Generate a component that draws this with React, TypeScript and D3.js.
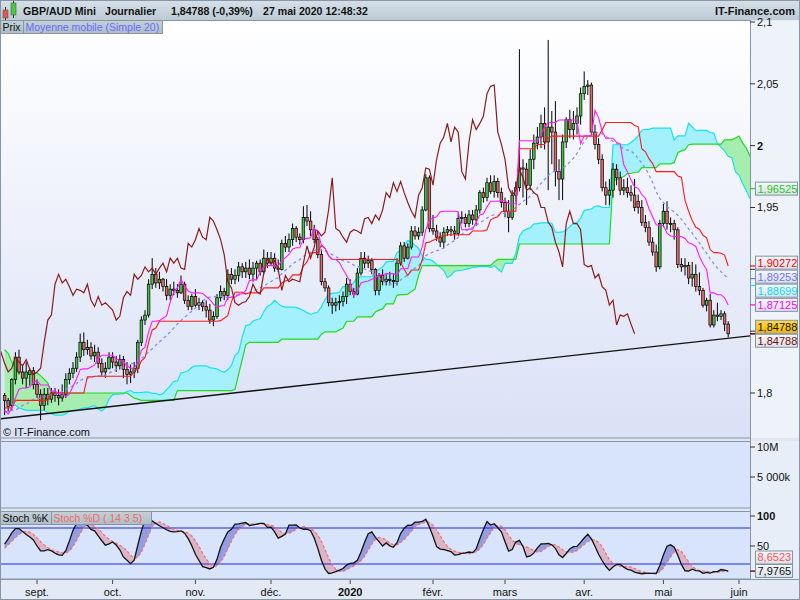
import * as d3 from 'd3';
import React, { useEffect, useRef } from 'react';

// daily candles, 20 Aug 2019 -> 27 May 2020 (one per weekday)
const opens = [
   1.798, 1.794, 1.790, 1.811, 1.829, 1.817, 1.812, 1.815, 1.818, 1.807,
   1.799, 1.790, 1.799, 1.795, 1.800, 1.798, 1.796, 1.799, 1.811, 1.816,
   1.820, 1.829, 1.841, 1.835, 1.837, 1.830, 1.833, 1.824, 1.817, 1.820,
   1.829, 1.825, 1.822, 1.827, 1.819, 1.815, 1.817, 1.820, 1.841, 1.859,
   1.863, 1.888, 1.896, 1.889, 1.892, 1.886, 1.879, 1.884, 1.883, 1.881,
   1.888, 1.875, 1.870, 1.878, 1.871, 1.873, 1.870, 1.867, 1.859, 1.862,
   1.877, 1.882, 1.879, 1.896, 1.892, 1.895, 1.902, 1.898, 1.901, 1.896,
   1.901, 1.905, 1.898, 1.909, 1.905, 1.909, 1.901, 1.900, 1.921, 1.918,
   1.924, 1.933, 1.926, 1.924, 1.942, 1.939, 1.932, 1.924, 1.912, 1.890,
   1.885, 1.873, 1.871, 1.873, 1.874, 1.878, 1.888, 1.882, 1.880, 1.897,
   1.909, 1.905, 1.907, 1.900, 1.883, 1.895, 1.890, 1.892, 1.891, 1.890,
   1.905, 1.919, 1.909, 1.918, 1.931, 1.927, 1.930, 1.948, 1.974, 1.933,
   1.931, 1.926, 1.922, 1.930, 1.932, 1.931, 1.929, 1.941, 1.942, 1.937,
   1.944, 1.940, 1.948, 1.962, 1.958, 1.970, 1.963, 1.971, 1.962, 1.954,
   1.947, 1.942, 1.960, 1.966, 1.982, 1.981, 1.968, 1.989, 2.002, 2.007,
   2.018, 2.003, 2.015, 2.011, 1.979, 1.973, 2.003, 2.021, 2.013, 2.018,
   2.024, 2.042, 2.048, 2.049, 2.011, 2.001, 1.989, 1.966, 1.960, 1.964,
   1.981, 1.974, 1.964, 1.966, 1.962, 1.960, 1.955, 1.950, 1.938, 1.934,
   1.922, 1.914, 1.902, 1.937, 1.947, 1.937, 1.937, 1.932, 1.904, 1.902,
   1.903, 1.893, 1.896, 1.886, 1.883, 1.871, 1.875, 1.855, 1.863, 1.862,
   1.864, 1.8557,
];
const highs = [
   1.800, 1.796, 1.812, 1.833, 1.835, 1.823, 1.825, 1.820, 1.821, 1.811,
   1.803, 1.804, 1.804, 1.804, 1.804, 1.803, 1.807, 1.816, 1.820, 1.825,
   1.833, 1.848, 1.849, 1.843, 1.841, 1.839, 1.837, 1.828, 1.825, 1.833,
   1.833, 1.830, 1.831, 1.830, 1.825, 1.823, 1.825, 1.843, 1.862, 1.867,
   1.892, 1.909, 1.901, 1.898, 1.893, 1.892, 1.888, 1.890, 1.888, 1.895,
   1.890, 1.879, 1.880, 1.884, 1.877, 1.875, 1.875, 1.872, 1.866, 1.880,
   1.887, 1.885, 1.900, 1.901, 1.900, 1.906, 1.905, 1.906, 1.908, 1.906,
   1.907, 1.908, 1.916, 1.914, 1.914, 1.913, 1.908, 1.924, 1.927, 1.929,
   1.937, 1.935, 1.929, 1.951, 1.952, 1.947, 1.936, 1.926, 1.916, 1.893,
   1.887, 1.877, 1.877, 1.879, 1.882, 1.893, 1.892, 1.885, 1.901, 1.914,
   1.914, 1.911, 1.909, 1.901, 1.897, 1.900, 1.896, 1.898, 1.896, 1.909,
   1.922, 1.922, 1.921, 1.935, 1.935, 1.934, 1.951, 1.977, 1.976, 1.944,
   1.936, 1.930, 1.934, 1.935, 1.935, 1.935, 1.946, 1.947, 1.945, 1.948,
   1.948, 1.952, 1.964, 1.966, 1.974, 1.976, 1.976, 1.974, 1.966, 1.958,
   1.956, 1.964, 1.971, 2.078, 1.989, 1.986, 1.997, 2.009, 2.015, 2.025,
   2.031, 2.0855, 2.028, 2.036, 1.989, 2.009, 2.023, 2.029, 2.028, 2.031,
   2.047, 2.060, 2.053, 2.051, 2.017, 2.006, 1.993, 1.971, 1.973, 1.986,
   1.985, 1.979, 1.973, 1.974, 1.968, 1.973, 1.96044, 1.956, 1.944, 1.939,
   1.926, 1.920, 1.940, 1.953, 1.955, 1.942, 1.940, 1.934, 1.909, 1.909,
   1.906, 1.906, 1.904, 1.8975, 1.885, 1.877, 1.880, 1.867, 1.873, 1.867,
   1.866, 1.858,
];
const lows = [
   1.782, 1.785, 1.786, 1.807, 1.815, 1.807, 1.804, 1.806, 1.803, 1.796,
   1.778, 1.786, 1.790, 1.792, 1.793, 1.790, 1.793, 1.796, 1.807, 1.812,
   1.817, 1.825, 1.830, 1.831, 1.827, 1.825, 1.820, 1.814, 1.812, 1.819,
   1.820, 1.817, 1.819, 1.812, 1.807, 1.808, 1.812, 1.816, 1.838, 1.855,
   1.861, 1.884, 1.885, 1.884, 1.882, 1.875, 1.875, 1.879, 1.877, 1.880,
   1.872, 1.867, 1.867, 1.869, 1.867, 1.866, 1.861, 1.856, 1.854, 1.860,
   1.874, 1.875, 1.875, 1.888, 1.888, 1.890, 1.893, 1.893, 1.892, 1.890,
   1.892, 1.895, 1.896, 1.901, 1.903, 1.898, 1.898, 1.899, 1.914, 1.914,
   1.919, 1.922, 1.920, 1.921, 1.935, 1.927, 1.921, 1.909, 1.887, 1.882,
   1.870, 1.864, 1.866, 1.867, 1.870, 1.872, 1.879, 1.877, 1.879, 1.895,
   1.901, 1.901, 1.896, 1.879, 1.879, 1.887, 1.887, 1.887, 1.885, 1.887,
   1.903, 1.906, 1.908, 1.916, 1.924, 1.924, 1.927, 1.947, 1.930, 1.928,
   1.923, 1.918, 1.917, 1.927, 1.927, 1.924, 1.927, 1.937, 1.934, 1.934,
   1.936, 1.935, 1.945, 1.954, 1.955, 1.961, 1.958, 1.958, 1.950, 1.942,
   1.930, 1.940, 1.955, 1.963, 1.958, 1.952, 1.964, 1.981, 1.997, 1.998,
   1.997, 1.964, 1.985, 1.967, 1.956, 1.956, 1.998, 2.006, 2.005, 2.009,
   2.017, 2.037, 2.041, 2.008, 1.997, 1.985, 1.963, 1.952, 1.952, 1.958,
   1.968, 1.960, 1.960, 1.958, 1.955, 1.947, 1.945, 1.935, 1.930, 1.919,
   1.911, 1.898, 1.900, 1.934, 1.932, 1.930, 1.924, 1.901, 1.898, 1.895,
   1.888, 1.886, 1.882, 1.879, 1.869, 1.866, 1.853, 1.853, 1.858, 1.859,
   1.850, 1.845,
];
const closes = [
   1.794, 1.789, 1.811, 1.829, 1.817, 1.812, 1.817, 1.818, 1.807, 1.799,
   1.790, 1.799, 1.795, 1.800, 1.798, 1.796, 1.799, 1.811, 1.816, 1.820,
   1.829, 1.841, 1.835, 1.837, 1.830, 1.833, 1.824, 1.817, 1.820, 1.829,
   1.825, 1.822, 1.827, 1.819, 1.815, 1.817, 1.820, 1.841, 1.859, 1.863,
   1.888, 1.896, 1.889, 1.892, 1.886, 1.879, 1.884, 1.883, 1.881, 1.888,
   1.875, 1.870, 1.878, 1.871, 1.873, 1.870, 1.867, 1.859, 1.862, 1.877,
   1.882, 1.879, 1.896, 1.892, 1.895, 1.902, 1.898, 1.901, 1.896, 1.901,
   1.905, 1.898, 1.909, 1.905, 1.909, 1.901, 1.900, 1.921, 1.918, 1.924,
   1.933, 1.926, 1.924, 1.942, 1.939, 1.932, 1.924, 1.912, 1.890, 1.885,
   1.873, 1.871, 1.873, 1.874, 1.878, 1.888, 1.882, 1.880, 1.897, 1.909,
   1.905, 1.907, 1.900, 1.883, 1.895, 1.890, 1.892, 1.891, 1.890, 1.905,
   1.919, 1.909, 1.918, 1.931, 1.927, 1.930, 1.948, 1.974, 1.933, 1.931,
   1.926, 1.922, 1.930, 1.932, 1.931, 1.929, 1.941, 1.942, 1.937, 1.944,
   1.940, 1.948, 1.962, 1.958, 1.970, 1.963, 1.971, 1.962, 1.954, 1.947,
   1.942, 1.960, 1.966, 1.982, 1.981, 1.968, 1.989, 2.002, 2.007, 2.018,
   2.003, 2.015, 2.011, 1.979, 1.973, 2.003, 2.021, 2.013, 2.018, 2.024,
   2.042, 2.048, 2.049, 2.011, 2.001, 1.989, 1.966, 1.960, 1.964, 1.981,
   1.974, 1.964, 1.966, 1.962, 1.960, 1.950, 1.950, 1.938, 1.934, 1.922,
   1.914, 1.902, 1.937, 1.947, 1.937, 1.937, 1.932, 1.904, 1.902, 1.903,
   1.893, 1.896, 1.886, 1.883, 1.871, 1.875, 1.855, 1.863, 1.862, 1.864,
   1.8557, 1.84788,
];

// indicator values on the left edge, where the window reaches back before the first candle
const tenkanStart = [1.786, 1.783, 1.788, 1.796, 1.803, 1.804, 1.804, 1.805];
const kijunStart = [
   1.788, 1.788, 1.788, 1.794, 1.794, 1.794, 1.794, 1.794, 1.794, 1.794,
   1.794, 1.794, 1.794, 1.800, 1.800, 1.800, 1.800, 1.800, 1.800, 1.800,
   1.800, 1.800, 1.800, 1.813, 1.813,
];
const smaStart = [
   1.785, 1.785, 1.786, 1.786, 1.788, 1.790, 1.791, 1.793, 1.795, 1.795,
   1.796, 1.797, 1.798, 1.799, 1.799, 1.800, 1.801, 1.803, 1.804,
];
const senkouAStart = [
   1.795, 1.791, 1.790, 1.790, 1.788, 1.787, 1.786, 1.786, 1.786, 1.786,
   1.786, 1.786, 1.784, 1.783, 1.782, 1.782, 1.782, 1.783, 1.785, 1.786,
   1.786, 1.787, 1.788, 1.788, 1.789, 1.790,
];
const senkouBStart = [
   1.835, 1.832, 1.825, 1.820, 1.817, 1.816, 1.816, 1.816, 1.816, 1.816,
   1.814, 1.811, 1.808, 1.801, 1.800, 1.800, 1.800, 1.800, 1.800, 1.800,
   1.800, 1.800, 1.800, 1.800, 1.800, 1.800, 1.800, 1.800, 1.800, 1.800,
   1.800, 1.800, 1.800, 1.800, 1.800, 1.798, 1.796, 1.795, 1.794, 1.794,
   1.794, 1.794, 1.794, 1.794, 1.794, 1.794, 1.794, 1.794, 1.802, 1.802,
   1.802, 1.802, 1.802, 1.802, 1.802, 1.802, 1.802, 1.802, 1.802, 1.802,
   1.802, 1.802, 1.802, 1.802, 1.803, 1.815, 1.827, 1.839, 1.841, 1.841,
   1.841, 1.841, 1.841, 1.841, 1.841, 1.841, 1.841,
];
const stochKStart = [53, 62, 72, 79, 79, 74, 69, 65, 60, 50, 42, 42, 44, 42, 38];
const stochDStart = [46, 52, 58, 64];

const trendLine = [
   { idx: 0, value: 1.7795 },
   { idx: 201, value: 1.8443 },
];

const firstDay = new Date(2019, 7, 20);
const monthNames = ['janv.', 'févr.', 'mars', 'avr.', 'mai', 'juin', 'juil.', 'août', 'sept.', 'oct.', 'nov.', 'déc.'];
const headerItems = [
   { text: 'GBP/AUD Mini', x: 23 },
   { text: 'Journalier', x: 105 },
   { text: '1,84788 (-0,39%)', x: 171 },
   { text: '27 mai 2020 12:48:32', x: 263 },
];
const priceTicks = [1.8, 1.85, 1.9, 1.95, 2, 2.05, 2.1];
const stochTicks = [50, 100];
const stochLevels = [20, 80];
const volumeTicks = [5e6, 10e6];
const volumeTickLabels = ['5 000k', '10M'];

const FONT = '"Liberation Sans", Arial, sans-serif';
const FRAME = '#8796a6';

type G = d3.Selection<SVGGElement, unknown, null, undefined>;
type Tag = { v: number; ty: number; color: string; text: string; bg: string };

const n = closes.length;

const midRange = (end: number, len: number) => {
   let hi = -Infinity;
   let lo = Infinity;
   for (let k = end - len + 1; k <= end; k++) {
      hi = Math.max(hi, highs[k]);
      lo = Math.min(lo, lows[k]);
   }
   return (hi + lo) / 2;
};

const fmt = (v: number, digits: number) => (v + 1e-9).toFixed(digits).replace('.', ',');

/**
 * Spread label centres (sorted top to bottom) so they keep a minimum gap,
 * then keep the lowest one above `maxY`.
 */
const spread = (ys: number[], gap: number, maxY: number) => {
   const pos = ys.slice();
   for (let it = 0; it < 80; it++) {
      for (let k = 1; k < pos.length; k++) {
         const d = pos[k] - pos[k - 1];
         if (d < gap) {
            const s = (gap - d) / 2;
            pos[k - 1] -= s;
            pos[k] += s;
         }
      }
   }
   let limit = maxY;
   for (let k = pos.length - 1; k >= 0; k--) {
      pos[k] = Math.min(pos[k], limit);
      limit = pos[k] - gap;
   }
   return pos;
};

const App = () => {
   const svgRef = useRef<SVGSVGElement | null>(null);

   useEffect(() => {
      const el = svgRef.current;
      if (!el) return;
      const svg = d3.select(el);
      svg.selectAll('*').remove();

      const W = 800;
      const H = 600;
      const right = 750;

      const x = d3.scaleLinear().domain([0, n - 1]).range([4.6, 728.2]);
      const y = d3.scaleLinear().domain([1.8, 2.1]).range([393, 22]);
      const yStoch = d3.scaleLinear().domain([0, 100]).range([576, 516]);
      const yVol = d3.scaleLinear().domain([0, 11e6]).range([507, 441]);

      // ---- indicators
      const tenkan = closes.map((_, i) => (i < 8 ? tenkanStart[i] : midRange(i, 9)));
      const kijun = closes.map((_, i) => (i < 25 ? kijunStart[i] : midRange(i, 26)));
      const sma = closes.map((_, i) =>
         i < 19 ? smaStart[i] : (d3.mean(closes.slice(i - 19, i + 1)) as number),
      );
      const cloudIdx = d3.range(n + 26);
      const spanA = cloudIdx.map((j) => (j < 26 ? senkouAStart[j] : (tenkan[j - 26] + kijun[j - 26]) / 2));
      const spanB = cloudIdx.map((j) => (j < 77 ? senkouBStart[j] : midRange(j - 26, 52)));
      const spanANow = (tenkan[n - 1] + kijun[n - 1]) / 2;
      const spanBNow = midRange(n - 1, 52);

      const rawK = closes.map((c, i) => {
         if (i < 13) return NaN;
         let hi = -Infinity;
         let lo = Infinity;
         for (let k = i - 13; k <= i; k++) {
            hi = Math.max(hi, highs[k]);
            lo = Math.min(lo, lows[k]);
         }
         return (100 * (c - lo)) / (hi - lo);
      });
      const slowK = closes.map((_, i) =>
         i < 15 ? stochKStart[i] : (rawK[i] + rawK[i - 1] + rawK[i - 2]) / 3,
      );
      const slowD = closes.map((_, i) =>
         i < 4 ? stochDStart[i] : (d3.mean(slowK.slice(i - 4, i + 1)) as number),
      );

      // trading days (weekdays) for the time axis
      const days: Date[] = [];
      const d = new Date(firstDay);
      while (days.length < n + 30) {
         if (d.getDay() !== 0 && d.getDay() !== 6) days.push(new Date(d));
         d.setDate(d.getDate() + 1);
      }
      const monthStarts = d3
         .range(1, days.length)
         .filter((i) => days[i].getMonth() !== days[i - 1].getMonth())
         .filter((i) => x(i) < right - 5);

      // ---- defs
      const defs = svg.append('defs');
      const grad = (id: string, stops: [number, string][]) => {
         const lg = defs.append('linearGradient').attr('id', id).attr('x1', 0).attr('y1', 0).attr('x2', 0).attr('y2', 1);
         stops.forEach(([o, c]) => lg.append('stop').attr('offset', o).attr('stop-color', c));
      };
      grad('hdr', [[0, '#d6e0e8'], [1, '#bccad5']]);
      grad('mainBg', [[0, '#ffffff'], [1, '#dae1f6']]);
      grad('box', [[0, '#f6f8fb'], [1, '#d9e0e9']]);
      grad('boxY', [[0, '#ffd94d'], [1, '#f1b800']]);
      grad('legend', [[0, '#c4d0d7'], [1, '#aebdc6']]);
      defs.append('clipPath').attr('id', 'clipMain').append('rect')
         .attr('x', 1).attr('y', 21).attr('width', right - 1).attr('height', 417);
      defs.append('clipPath').attr('id', 'clipStoch').append('rect')
         .attr('x', 1).attr('y', 512).attr('width', right - 1).attr('height', 67);

      // ---- frame and panels
      svg.append('rect').attr('width', W).attr('height', H).attr('fill', '#dfe6f2');
      svg.append('rect').attr('width', W).attr('height', 20).attr('fill', 'url(#hdr)');
      svg.append('rect').attr('x', 0.5).attr('y', 20.5).attr('width', right).attr('height', 417.5)
         .attr('fill', 'url(#mainBg)').attr('stroke', FRAME);
      svg.append('rect').attr('x', right + 0.5).attr('y', 20.5).attr('width', W - right - 1).attr('height', 417.5)
         .attr('fill', '#eef2f9');
      svg.append('rect').attr('x', 0.5).attr('y', 441.5).attr('width', right).attr('height', 66.5)
         .attr('fill', '#d8e4fb').attr('stroke', FRAME);
      svg.append('rect').attr('x', 0.5).attr('y', 511.5).attr('width', right).attr('height', 67.5)
         .attr('fill', '#d8e4fb').attr('stroke', FRAME);
      svg.append('rect').attr('x', right + 0.5).attr('y', 441).attr('width', W - right - 1).attr('height', 138)
         .attr('fill', '#e8eef8');
      svg.append('rect').attr('x', 0).attr('y', 579.5).attr('width', W).attr('height', 20.5).attr('fill', '#e3eaf5');
      svg.append('line').attr('x1', right + 0.5).attr('x2', right + 0.5).attr('y1', 20).attr('y2', 580)
         .attr('stroke', FRAME);
      svg.append('line').attr('x1', 0).attr('x2', W).attr('y1', 579.5).attr('y2', 579.5).attr('stroke', FRAME);

      // ---- header
      const hdr = svg.append('g');
      hdr.append('line').attr('x1', 5.5).attr('x2', 5.5).attr('y1', 7).attr('y2', 20).attr('stroke', '#333');
      hdr.append('rect').attr('x', 3).attr('y', 10).attr('width', 5).attr('height', 8)
         .attr('fill', '#e85555').attr('stroke', '#555').attr('stroke-width', 0.6);
      hdr.append('line').attr('x1', 13.5).attr('x2', 13.5).attr('y1', 1).attr('y2', 18).attr('stroke', '#333');
      hdr.append('rect').attr('x', 11).attr('y', 3).attr('width', 5).attr('height', 12)
         .attr('fill', '#44cc44').attr('stroke', '#555').attr('stroke-width', 0.6);
      headerItems.forEach((h) => {
         hdr.append('text').attr('x', h.x).attr('y', 15).attr('font-family', FONT)
            .attr('font-size', 10.6).attr('font-weight', 'bold').attr('fill', '#111').text(h.text);
      });
      hdr.append('text').attr('x', 795).attr('y', 15).attr('text-anchor', 'end').attr('font-family', FONT)
         .attr('font-size', 11).attr('font-weight', 'bold').attr('fill', '#111').text('IT-Finance.com');

      // ---- main chart
      const g: G = svg.append('g').attr('clip-path', 'url(#clipMain)');

      const greenArea = d3.area<number>()
         .x((j) => x(j))
         .y0((j) => y(spanA[j]))
         .y1((j) => y(Math.max(spanA[j], spanB[j])));
      const cyanArea = d3.area<number>()
         .x((j) => x(j))
         .y0((j) => y(spanB[j]))
         .y1((j) => y(Math.max(spanA[j], spanB[j])));
      g.append('path').datum(cloudIdx).attr('d', greenArea).attr('fill', '#a6eeb0');
      g.append('path').datum(cloudIdx).attr('d', cyanArea).attr('fill', '#a4f0fd');

      const seriesLine = (vals: number[]) =>
         d3.line<number>().x((i) => x(i)).y((i) => y(vals[i]));
      g.append('path').datum(cloudIdx).attr('d', seriesLine(spanA))
         .attr('fill', 'none').attr('stroke', '#19e0f5').attr('stroke-width', 1.2);
      g.append('path').datum(cloudIdx).attr('d', seriesLine(spanB))
         .attr('fill', 'none').attr('stroke', '#1fdc1f').attr('stroke-width', 1.2);

      // trend line across the whole panel
      const trendValue = d3.scaleLinear()
         .domain([trendLine[0].idx, trendLine[1].idx])
         .range([trendLine[0].value, trendLine[1].value]);
      const tEnds = [x.invert(0), x.invert(right)];
      g.append('line')
         .attr('x1', x(tEnds[0])).attr('y1', y(trendValue(tEnds[0])))
         .attr('x2', x(tEnds[1])).attr('y2', y(trendValue(tEnds[1])))
         .attr('stroke', '#111').attr('stroke-width', 1.3);

      // candles
      const bodyW = 2.6;
      const candles = g.append('g');
      closes.forEach((c, i) => {
         const o = opens[i];
         const up = c >= o;
         candles.append('line')
            .attr('x1', x(i)).attr('x2', x(i))
            .attr('y1', y(highs[i])).attr('y2', y(lows[i]))
            .attr('stroke', '#000').attr('stroke-width', 1);
         const top = y(Math.max(o, c));
         const h = Math.max(1, Math.abs(y(o) - y(c)));
         candles.append('rect')
            .attr('x', x(i) - bodyW / 2).attr('y', top)
            .attr('width', bodyW).attr('height', h)
            .attr('fill', up ? '#46bf46' : '#e06a6a')
            .attr('stroke', '#000').attr('stroke-width', 0.7);
      });

      const idx = d3.range(n);
      g.append('path').datum(idx).attr('d', seriesLine(sma))
         .attr('fill', 'none').attr('stroke', '#8c8cf0').attr('stroke-width', 1.3).attr('stroke-dasharray', '3,3');
      g.append('path').datum(idx).attr('d', seriesLine(kijun))
         .attr('fill', 'none').attr('stroke', '#ff1a1a').attr('stroke-width', 1.1);
      g.append('path').datum(idx).attr('d', seriesLine(tenkan))
         .attr('fill', 'none').attr('stroke', '#ff1aff').attr('stroke-width', 1.1);
      g.append('path').datum(idx)
         .attr('d', d3.line<number>().x((i) => x(i - 26)).y((i) => y(closes[i])))
         .attr('fill', 'none').attr('stroke', '#8b1c1c').attr('stroke-width', 1.2);

      svg.append('text').attr('x', 3).attr('y', 436).attr('font-family', FONT).attr('font-size', 11)
         .attr('fill', '#111').text('© IT-Finance.com');

      // legend boxes
      const legendBox = (bx: number, by: number, w: number, text: string, color: string) => {
         svg.append('rect').attr('x', bx + 0.5).attr('y', by + 0.5).attr('width', w).attr('height', 13)
            .attr('fill', 'url(#legend)').attr('stroke', '#8897a2');
         svg.append('text').attr('x', bx + 2.5).attr('y', by + 11).attr('font-family', FONT).attr('font-size', 10.5)
            .attr('fill', color).text(text);
      };
      legendBox(0, 20, 23, 'Prix', '#111');
      legendBox(23, 20, 139, 'Moyenne mobile (Simple 20)', '#6c6cff');

      // value tags on an axis: returns the centres used
      const tagBox = (items: Tag[], gap: number, w: number, maxY: number) => {
         const sorted = items.slice().sort((a, b) => a.ty - b.ty);
         const pos = spread(sorted.map((s) => s.ty), gap, maxY);
         sorted.forEach((s) => {
            svg.append('line').attr('x1', right).attr('x2', right + 6).attr('y1', s.ty).attr('y2', s.ty)
               .attr('stroke', s.color === '#111' ? '#333' : s.color).attr('stroke-width', 1.2);
         });
         sorted.forEach((s, k) => {
            svg.append('rect').attr('x', right + 5.5).attr('y', pos[k] - 6.5).attr('width', w).attr('height', 13)
               .attr('fill', s.bg).attr('stroke', '#8594a3');
            svg.append('text').attr('x', right + 7.5).attr('y', pos[k]).attr('dy', '0.36em').attr('font-family', FONT)
               .attr('font-size', 11).attr('fill', s.color).text(s.text);
         });
         return pos;
      };
      const priceTags: Tag[] = [
         { v: spanBNow, color: '#22cc22', bg: 'url(#box)' },
         { v: kijun[n - 1], color: '#ff0000', bg: 'url(#box)' },
         { v: sma[n - 1], color: '#7070ff', bg: 'url(#box)' },
         { v: spanANow, color: '#00e0ff', bg: 'url(#box)' },
         { v: tenkan[n - 1], color: '#ff00ff', bg: 'url(#box)' },
         { v: closes[n - 1], color: '#111', bg: 'url(#boxY)' },
         { v: closes[n - 1], color: '#7a0a0a', bg: 'url(#box)' },
      ].map((t, k) => ({ ...t, ty: y(t.v) + k * 1e-4, text: fmt(t.v, 5) }));

      // price axis (ticks hidden behind a value tag are left out, as on the original)
      const sortedTagY = spread(priceTags.map((t) => t.ty).sort((a, b) => a - b), 14, 430);
      priceTicks.forEach((v) => {
         const ty = y(v);
         const whole = v === Math.round(v);
         svg.append('line').attr('x1', right).attr('x2', right + 5).attr('y1', ty).attr('y2', ty).attr('stroke', '#333');
         if (sortedTagY.some((p) => Math.abs(p - ty) < 12)) return;
         svg.append('text').attr('x', right + 7).attr('y', ty).attr('dy', '0.36em').attr('font-family', FONT)
            .attr('font-size', 11).attr('font-weight', whole ? 'bold' : 'normal')
            .attr('fill', '#111').text(fmt(v, whole ? 0 : Math.round(v * 100) % 10 === 0 ? 1 : 2));
      });
      tagBox(priceTags, 14, 42, 430);

      // ---- volume panel (no volume for forex)
      volumeTicks.forEach((v, k) => {
         const ty = yVol(v);
         svg.append('line').attr('x1', right).attr('x2', right + 5).attr('y1', ty).attr('y2', ty).attr('stroke', '#333');
         svg.append('text').attr('x', right + 7).attr('y', ty).attr('dy', '0.36em').attr('font-family', FONT)
            .attr('font-size', 11).attr('fill', '#111').text(volumeTickLabels[k]);
      });

      // ---- stochastic panel
      const sg: G = svg.append('g').attr('clip-path', 'url(#clipStoch)');
      const blueArea = d3.area<number>()
         .x((i) => x(i))
         .y0((i) => yStoch(slowD[i]))
         .y1((i) => yStoch(Math.max(slowK[i], slowD[i])));
      const pinkArea = d3.area<number>()
         .x((i) => x(i))
         .y0((i) => yStoch(slowK[i]))
         .y1((i) => yStoch(Math.max(slowK[i], slowD[i])));
      sg.append('path').datum(idx).attr('d', blueArea).attr('fill', '#959ee3');
      sg.append('path').datum(idx).attr('d', pinkArea).attr('fill', '#dbb4c6');
      stochLevels.forEach((v) => {
         sg.append('line').attr('x1', 0).attr('x2', right).attr('y1', yStoch(v)).attr('y2', yStoch(v))
            .attr('stroke', '#2525e0').attr('stroke-width', 1.2);
      });
      sg.append('path').datum(idx)
         .attr('d', d3.line<number>().x((i) => x(i)).y((i) => yStoch(slowD[i])))
         .attr('fill', 'none').attr('stroke', '#f07070').attr('stroke-width', 1.2).attr('stroke-dasharray', '3,2');
      sg.append('path').datum(idx)
         .attr('d', d3.line<number>().x((i) => x(i)).y((i) => yStoch(slowK[i])))
         .attr('fill', 'none').attr('stroke', '#111').attr('stroke-width', 1.3);

      legendBox(0, 511, 51, 'Stoch %K', '#111');
      legendBox(51, 511, 100, 'Stoch %D ( 14 3 5)', '#f26a6a');

      stochTicks.forEach((v) => {
         const ty = yStoch(v);
         svg.append('line').attr('x1', right).attr('x2', right + 5).attr('y1', ty).attr('y2', ty).attr('stroke', '#333');
         svg.append('text').attr('x', right + 7).attr('y', ty).attr('dy', '0.36em').attr('font-family', FONT)
            .attr('font-size', 11).attr('font-weight', v === 100 ? 'bold' : 'normal').attr('fill', '#111').text(String(v));
      });
      const stochTags: Tag[] = [
         { v: slowD[n - 1], color: '#ff5050', bg: 'url(#box)' },
         { v: slowK[n - 1], color: '#111', bg: 'url(#box)' },
      ].map((t) => ({ ...t, ty: yStoch(t.v), text: fmt(t.v, 4) }));
      tagBox(stochTags, 13.5, 37, 571);

      // ---- time axis
      monthStarts.forEach((i) => {
         const tx = x(i);
         const m = days[i].getMonth();
         svg.append('line').attr('x1', tx).attr('x2', tx).attr('y1', 580).attr('y2', 584).attr('stroke', '#445');
         svg.append('text').attr('x', tx).attr('y', 596).attr('text-anchor', 'middle').attr('font-family', FONT)
            .attr('font-size', 11).attr('font-weight', m === 0 ? 'bold' : 'normal').attr('fill', '#111')
            .text(m === 0 ? String(days[i].getFullYear()) : monthNames[m]);
      });

      svg.append('rect').attr('x', 0.5).attr('y', 0.5).attr('width', W - 1).attr('height', H - 1)
         .attr('fill', 'none').attr('stroke', FRAME);
   }, []);

   return (
      <div style={{ position: 'absolute', left: 0, top: 0 }}>
         <svg ref={svgRef} width={800} height={600} style={{ display: 'block' }} />
      </div>
   );
};

export default App;
